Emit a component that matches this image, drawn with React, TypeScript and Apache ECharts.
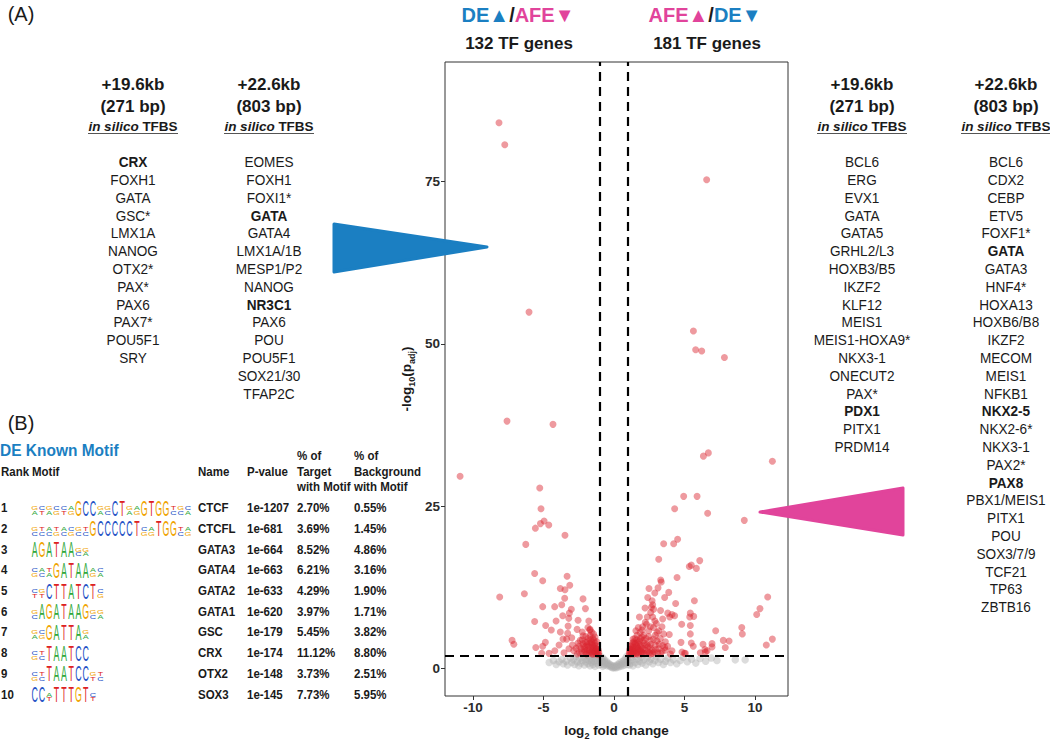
import React, { useEffect, useRef } from "react";
import * as echarts from "echarts";

// ---------------- DATA ----------------
const xTicks = [-10, -5, 0, 5, 10];
const yTicks = [0, 25, 50, 75];
const fcCut = [-1, 1];
const padjCut = 2;

// significant, lower in AFE (left)
const leftRed: number[][] = [
  [-8.16, 84.1], [-7.75, 80.7], [-6.03, 54.9], [-7.59, 38.1], [-4.33, 37.6],
  [-10.92, 29.6], [-5.27, 27.8], [-5.18, 24.6], [-4.96, 22.7], [-5.22, 22.3], [-4.63, 22.1], [-5.58, 21.6], [-3.48, 20.5], [-6.26, 19.1],
  [-5.63, 14.6], [-5.06, 13.5], [-3.33, 14.2], [-3.14, 12.8], [-3.81, 12.3], [-3.48, 12.1], [-8.11, 11.0], [-6.36, 11.5], [-3.5, 10.8], [-2.2, 10.7],
  [-5.06, 9.5], [-4.21, 9.5], [-3.71, 9.8], [-3.03, 9.1], [-2.03, 9.2], [-3.17, 8.5], [-3.64, 8.1], [-3.21, 7.7], [-2.55, 7.4], [-1.79, 7.3],
  [-5.63, 7.2], [-4.11, 7.3], [-4.85, 6.6], [-3.26, 6.5], [-4.45, 5.9], [-3.81, 5.6], [-2.62, 6.0], [-2.25, 5.6], [-1.72, 5.9], [-3.29, 5.4],
  [-3.62, 4.5], [-3.0, 4.7], [-3.36, 4.5], [-7.23, 4.3], [-7.11, 3.7], [-4.87, 4.0], [-5.06, 3.4], [-5.55, 3.2], [-4.61, 2.3], [-5.13, 2.3],
  [-3.55, 2.4], [-2.86, 2.7],
  [-2.4, 4.3], [-2.2, 3.8], [-2.0, 4.9], [-1.9, 4.1], [-1.8, 3.4], [-1.7, 5.0], [-1.65, 4.4], [-1.6, 3.7], [-1.55, 2.9], [-1.5, 4.6],
  [-1.45, 3.2], [-1.4, 2.5], [-1.35, 3.9], [-1.3, 2.2], [-1.25, 3.0], [-1.2, 2.6], [-1.15, 2.3], [-1.1, 2.1], [-2.1, 2.9], [-2.3, 2.5],
  [-1.95, 2.4], [-1.75, 2.7], [-2.5, 3.4], [-2.7, 3.1], [-1.6, 5.6], [-1.85, 6.3], [-2.05, 3.3], [-1.35, 4.8], [-1.55, 2.2], [-2.6, 2.2],
  [-3.2, 3.0], [-2.95, 3.6], [-4.2, 2.7], [-3.9, 3.6],
  [-1.12, 2.8], [-1.18, 3.4], [-1.22, 4.1], [-1.28, 2.4], [-1.33, 3.1], [-1.38, 3.6], [-1.42, 4.3], [-1.48, 2.7], [-1.52, 3.5], [-1.58, 4.0],
  [-1.62, 2.5], [-1.68, 3.2], [-1.72, 3.9], [-1.78, 2.3], [-1.82, 4.6], [-1.88, 2.9], [-1.92, 3.6], [-1.98, 2.2], [-2.02, 4.0], [-2.08, 2.6],
  [-2.15, 3.4], [-2.25, 4.4], [-2.35, 3.0], [-2.45, 2.4], [-2.55, 3.9], [-1.45, 5.3], [-1.7, 6.0], [-2.2, 5.0], [-1.3, 2.6], [-1.2, 3.0],
  [-1.08, 2.4], [-1.5, 2.2],
];

// significant, higher in AFE (right)
const rightRed: number[][] = [
  [6.57, 75.3], [5.63, 52.0], [5.79, 49.1], [6.22, 48.9], [7.83, 47.9], [6.34, 32.7], [6.69, 33.2], [11.23, 31.9],
  [4.94, 26.5], [5.89, 26.5], [4.3, 24.6], [6.64, 23.9], [9.24, 22.8], [4.51, 19.9], [3.52, 19.2], [4.23, 19.2], [3.17, 16.8], [6.08, 16.6],
  [5.48, 15.9], [5.34, 15.7], [5.84, 15.4],
  [3.31, 13.6], [3.35, 13.3], [4.47, 14.0], [2.48, 12.3], [3.12, 12.4], [2.89, 11.6], [2.39, 10.9], [3.59, 10.9], [2.7, 10.4], [2.74, 9.8],
  [2.65, 9.4], [2.81, 9.1], [5.7, 10.4], [4.37, 10.0], [3.81, 8.5], [4.11, 8.3], [3.95, 7.9], [4.3, 8.1], [5.41, 8.5], [5.65, 8.0], [5.37, 7.9],
  [1.8, 7.9], [2.36, 7.9], [2.74, 7.9], [3.0, 6.9], [3.4, 6.4], [2.22, 7.1], [2.03, 6.4], [1.72, 6.3], [2.58, 6.4], [2.46, 5.8], [3.17, 5.8],
  [2.93, 5.1], [3.52, 5.3], [3.92, 5.2], [3.28, 4.6], [3.64, 4.1], [2.93, 3.6], [2.58, 4.3], [2.1, 5.1], [1.63, 5.1], [1.4, 4.1], [1.28, 3.6],
  [1.16, 3.0], [1.63, 3.3], [1.87, 2.8], [2.34, 3.6], [2.22, 2.8], [2.7, 2.8], [3.17, 3.0], [3.64, 2.8], [4.11, 2.7], [4.82, 2.5], [2.1, 4.3],
  [1.87, 4.6], [3.88, 11.7],
  [4.8, 6.8], [5.41, 6.6], [5.41, 5.3], [4.75, 4.0], [5.48, 3.9], [5.62, 3.4], [6.31, 3.7], [6.95, 3.8], [6.95, 3.3], [7.21, 5.8], [7.75, 4.3],
  [8.16, 4.2], [7.89, 3.2], [9.06, 6.3], [9.1, 5.3], [10.12, 8.3], [10.35, 9.2], [10.9, 11.0], [10.8, 3.6], [11.23, 4.5], [5.06, 2.3],
  [6.6, 2.7], [6.48, 2.5], [6.12, 2.4], [6.45, 2.9], [4.99, 2.3],
  [1.1, 2.2], [1.15, 2.6], [1.2, 2.3], [1.25, 2.9], [1.3, 2.4], [1.35, 3.3], [1.45, 2.6], [1.5, 3.8], [1.55, 2.3], [1.6, 4.4], [1.7, 2.9],
  [1.75, 3.7], [1.85, 5.5], [1.95, 3.2], [2.0, 2.4], [2.15, 3.9], [2.3, 2.3], [2.45, 4.9], [2.55, 3.2], [2.6, 2.2], [2.85, 2.5], [3.05, 4.2],
  [3.3, 2.3], [3.45, 3.5], [3.8, 3.4], [4.0, 2.2], [1.4, 2.2], [1.65, 2.2], [1.9, 2.2], [2.9, 7.3], [2.6, 8.6], [3.3, 8.9], [3.45, 7.6], [2.2, 9.3],
  [1.08, 2.4], [1.12, 2.9], [1.18, 3.4], [1.22, 2.2], [1.28, 2.7], [1.32, 3.9], [1.38, 2.5], [1.42, 3.1], [1.48, 4.6], [1.52, 2.8],
  [1.58, 3.5], [1.62, 2.4], [1.68, 4.0], [1.72, 3.1], [1.78, 2.5], [1.82, 4.2], [1.88, 3.5], [1.92, 2.6], [1.98, 4.8], [2.05, 3.0],
  [2.12, 2.3], [2.2, 3.6], [2.28, 4.6], [2.38, 2.6], [2.42, 3.3], [2.52, 2.4], [2.62, 3.7], [2.75, 2.3], [2.8, 4.5], [2.95, 2.9],
  [3.1, 2.4], [3.2, 3.7], [3.4, 2.6], [3.6, 3.2], [1.55, 5.8], [2.0, 5.9], [2.3, 6.8], [2.8, 6.3], [3.05, 5.5], [1.35, 4.5],
];

// not significant
const grayPts: number[][] = [
  [-4.6, 0.9], [-4.3, 1.2], [-4.1, 0.6], [-3.9, 1.0], [-3.7, 1.4], [-3.6, 0.7], [-3.4, 1.1], [-3.3, 0.5], [-3.1, 1.6], [-3.0, 0.9],
  [-2.9, 1.3], [-2.8, 0.6], [-2.7, 1.8], [-2.6, 1.0], [-2.5, 0.4], [-2.45, 1.5], [-2.35, 0.8], [-2.25, 1.2], [-2.15, 1.7], [-2.1, 0.5],
  [-2.0, 1.0], [-1.95, 1.4], [-1.85, 0.7], [-1.8, 1.9], [-1.75, 1.2], [-1.7, 0.4], [-1.65, 1.6], [-1.6, 0.9], [-1.55, 1.3], [-1.5, 0.6],
  [-1.45, 1.8], [-1.4, 1.1], [-1.35, 0.3], [-1.3, 1.5], [-1.25, 0.8], [-1.2, 1.9], [-1.15, 1.2], [-1.1, 0.5], [-1.05, 1.6], [-1.0, 1.0],
  [-0.95, 1.8], [-0.9, 1.4], [-0.9, 0.6], [-0.85, 1.1], [-0.8, 1.6], [-0.8, 0.3], [-0.75, 0.9], [-0.7, 1.3], [-0.7, 0.5], [-0.65, 1.0],
  [-0.6, 0.7], [-0.55, 1.1], [-0.5, 0.4], [-0.45, 0.8], [-0.4, 0.5], [-0.35, 0.7], [-0.3, 0.3], [-0.25, 0.5], [-0.2, 0.2], [-0.15, 0.4],
  [-0.1, 0.1], [-0.05, 0.3], [0.0, 0.1], [0.05, 0.2], [0.1, 0.4], [0.15, 0.1], [0.2, 0.3], [0.25, 0.6], [0.3, 0.2], [0.35, 0.5],
  [0.4, 0.8], [0.45, 0.3], [0.5, 0.6], [0.55, 1.0], [0.6, 0.4], [0.65, 0.8], [0.7, 1.2], [0.75, 0.5], [0.8, 1.5], [0.85, 0.9],
  [0.9, 1.8], [0.95, 0.6], [0.95, 1.3],
  [1.05, 1.1], [1.1, 0.5], [1.15, 1.7], [1.2, 0.8], [1.3, 1.3], [1.35, 0.4], [1.45, 1.9], [1.5, 0.9], [1.6, 1.4], [1.7, 0.6],
  [1.8, 1.1], [1.9, 1.7], [2.0, 0.8], [2.1, 1.3], [2.25, 0.5], [2.35, 1.6], [2.5, 1.0], [2.6, 1.4], [2.75, 0.7], [2.9, 1.2],
  [3.0, 1.8], [3.15, 0.9], [3.3, 1.4], [3.5, 0.6], [3.65, 1.1], [3.8, 1.6], [4.0, 0.9], [4.2, 1.3], [4.45, 0.7], [4.7, 1.2],
  [4.9, 1.7], [5.2, 1.0], [5.5, 1.4], [5.8, 0.8], [6.1, 1.5], [6.5, 1.1], [6.9, 1.6], [7.3, 1.2], [8.6, 1.3], [9.3, 1.3],
];

// TFBS lists
const deCol1 = ["CRX", "FOXH1", "GATA", "GSC*", "LMX1A", "NANOG", "OTX2*", "PAX*", "PAX6", "PAX7*", "POU5F1", "SRY"];
const deCol1Bold = ["CRX"];
const deCol2 = ["EOMES", "FOXH1", "FOXI1*", "GATA", "GATA4", "LMX1A/1B", "MESP1/P2", "NANOG", "NR3C1", "PAX6", "POU", "POU5F1", "SOX21/30", "TFAP2C"];
const deCol2Bold = ["GATA", "NR3C1"];
const afeCol1 = ["BCL6", "ERG", "EVX1", "GATA", "GATA5", "GRHL2/L3", "HOXB3/B5", "IKZF2", "KLF12", "MEIS1", "MEIS1-HOXA9*", "NKX3-1", "ONECUT2", "PAX*", "PDX1", "PITX1", "PRDM14"];
const afeCol1Bold = ["PDX1"];
const afeCol2 = ["BCL6", "CDX2", "CEBP", "ETV5", "FOXF1*", "GATA", "GATA3", "HNF4*", "HOXA13", "HOXB6/B8", "IKZF2", "MECOM", "MEIS1", "NFKB1", "NKX2-5", "NKX2-6*", "NKX3-1", "PAX2*", "PAX8", "PBX1/MEIS1", "PITX1", "POU", "SOX3/7/9", "TCF21", "TP63", "ZBTB16"];
const afeCol2Bold = ["GATA", "NKX2-5", "PAX8"];

// Known motif table
const motifRank = ["1", "2", "3", "4", "5", "6", "7", "8", "9", "10"];
const motifLogo = [
  "[ag][tc][ag][gc][tc][ga]GCC[ag][cg]CT[ag][ga]GTGG[ct][cg][ac]",
  "[cg][ct][ca][gt][ca][gc][cg][ct]GCCCCCT[gc][ga]TGG[ct][ga]",
  "AGATAA[cg][ag]",
  "[gc][ca][at]GATAA[ga][ac]",
  "[tc][tg]CTTATCT[gc]",
  "[cg]AGATAAG[cg][ag]",
  "[ag][gc]GATTA[ag]",
  "[gc][ct]TAATCC",
  "[gc][ct]TAATCC[tg][ct]",
  "CC[ta]TTTGT[tc]",
];
const motifName = ["CTCF", "CTCFL", "GATA3", "GATA4", "GATA2", "GATA1", "GSC", "CRX", "OTX2", "SOX3"];
const motifP = ["1e-1207", "1e-681", "1e-664", "1e-663", "1e-633", "1e-620", "1e-179", "1e-174", "1e-148", "1e-145"];
const motifTarget = ["2.70%", "3.69%", "8.52%", "6.21%", "4.29%", "3.97%", "5.45%", "11.12%", "3.73%", "7.73%"];
const motifBg = ["0.55%", "1.45%", "4.86%", "3.16%", "1.90%", "1.71%", "3.82%", "8.80%", "2.51%", "5.95%"];

// ---------------- STYLE ----------------
const FONT = "'Liberation Sans', Arial, Helvetica, sans-serif";
const BLUE = "#1b7fc2";
const PINK = "#e1449b";
const INK = "#1a1a1a";
const LOGO_COL: Record<string, string> = { A: "#2fa83a", C: "#2452c6", G: "#f0a400", T: "#dd2222" };

function txt(x: number, y: number, text: string, o: any = {}) {
  return {
    type: "text",
    x,
    y,
    scaleY: o.scaleY ?? 1,
    scaleX: o.scaleX ?? 1,
    silent: true,
    style: {
      text,
      fill: o.fill ?? INK,
      fontSize: o.fontSize ?? 14,
      fontWeight: o.fontWeight ?? "normal",
      fontStyle: o.fontStyle ?? "normal",
      fontFamily: o.fontFamily ?? FONT,
      align: o.align ?? "center",
      verticalAlign: o.verticalAlign ?? "middle",
      rich: o.rich,
    },
  };
}

function columnBlock(cx: number, title1: string, title2: string, items: string[], bold: string[], els: any[]) {
  els.push(txt(cx, 84, title1, { fontSize: 17, fontWeight: "bold" }));
  els.push(txt(cx, 106, title2, { fontSize: 17, fontWeight: "bold" }));
  els.push(
    txt(cx, 126, "{i|in silico} {b|TFBS}", {
      fontSize: 13.5,
      fontWeight: "bold",
      rich: {
        i: { fontStyle: "italic", fontWeight: "bold", fontSize: 13.5, fontFamily: FONT, fill: INK },
        b: { fontWeight: "bold", fontSize: 13.5, fontFamily: FONT, fill: INK },
      },
    })
  );
  els.push({
    type: "line",
    silent: true,
    shape: { x1: cx - 45, y1: 133.5, x2: cx + 45, y2: 133.5 },
    style: { stroke: "#555", lineWidth: 1 },
  });
  items.forEach((t, i) => {
    els.push(
      txt(cx, 162 + i * 17.8, t, {
        fontSize: 13.6,
        scaleY: 1.13,
        fontWeight: bold.includes(t) ? "bold" : "normal",
      })
    );
  });
}

function logoElems(spec: string, x0: number, yc: number, els: any[]) {
  const PW = 7.3;
  const re = /\[([a-z]+)\]|([A-Z])/g;
  let m: RegExpExecArray | null;
  let i = 0;
  while ((m = re.exec(spec))) {
    const cx = x0 + i * PW + PW / 2;
    if (m[2]) {
      els.push(txt(cx, yc + 0.5, m[2], { fontSize: 17, scaleX: 0.52, scaleY: 1.3, fill: LOGO_COL[m[2]] }));
    } else {
      m[1]
        .toUpperCase()
        .split("")
        .forEach((c, k) => {
          els.push(txt(cx, yc + 5 - k * 4.8, c, { fontSize: 17, scaleX: 0.52, scaleY: 0.36, fill: LOGO_COL[c] }));
        });
    }
    i++;
  }
}

function buildGraphic() {
  const els: any[] = [];
  els.push(txt(21, 14, "(A)", { fontSize: 20 }));
  els.push(txt(21, 423, "(B)", { fontSize: 20 }));

  // top labels
  const topRich = {
    b: { fill: BLUE, fontSize: 20, fontWeight: "bold", fontFamily: FONT },
    p: { fill: PINK, fontSize: 20, fontWeight: "bold", fontFamily: FONT },
    k: { fill: INK, fontSize: 20, fontWeight: "bold", fontFamily: FONT },
  };
  els.push(txt(518, 15, "{b|DE▲}{k|/}{p|AFE▼}", { rich: topRich, fontSize: 20, fontWeight: "bold" }));
  els.push(txt(705, 15, "{p|AFE▲}{k|/}{b|DE▼}", { rich: topRich, fontSize: 20, fontWeight: "bold" }));
  els.push(txt(519, 43, "132 TF genes", { fontSize: 17, fontWeight: "bold" }));
  els.push(txt(707, 43, "181 TF genes", { fontSize: 17, fontWeight: "bold" }));

  // TFBS columns
  columnBlock(133, "+19.6kb", "(271 bp)", deCol1, deCol1Bold, els);
  columnBlock(269, "+22.6kb", "(803 bp)", deCol2, deCol2Bold, els);
  columnBlock(862, "+19.6kb", "(271 bp)", afeCol1, afeCol1Bold, els);
  columnBlock(1006, "+22.6kb", "(803 bp)", afeCol2, afeCol2Bold, els);

  // pointer triangles
  els.push({
    type: "polygon",
    silent: true,
    shape: { points: [[334, 224], [487, 247], [334, 272]] },
    style: { fill: BLUE, stroke: BLUE, lineWidth: 3, lineJoin: "round" },
  });
  els.push({
    type: "polygon",
    silent: true,
    shape: { points: [[760, 512], [903, 488], [903, 535]] },
    style: { fill: PINK, stroke: PINK, lineWidth: 3, lineJoin: "round" },
  });

  // motif table
  const tb = { fontSize: 11.5, fontWeight: "bold", scaleY: 1.15, align: "left" };
  els.push(txt(0, 450, "DE Known Motif", { fontSize: 15.5, fontWeight: "bold", scaleY: 1.12, fill: BLUE, align: "left" }));
  els.push(txt(1, 472, "Rank", tb));
  els.push(txt(32, 472, "Motif", tb));
  els.push(txt(198, 472, "Name", tb));
  els.push(txt(247, 472, "P-value", tb));
  els.push(txt(297, 456, "% of", tb));
  els.push(txt(297, 472, "Target", tb));
  els.push(txt(297, 487, "with Motif", tb));
  els.push(txt(354, 456, "% of", tb));
  els.push(txt(354, 472, "Background", tb));
  els.push(txt(354, 487, "with Motif", tb));
  motifRank.forEach((r, i) => {
    const y = 508 + i * 20.7;
    els.push(txt(1, y, r, tb));
    logoElems(motifLogo[i], 31, y, els);
    els.push(txt(198, y, motifName[i], tb));
    els.push(txt(247, y, motifP[i], tb));
    els.push(txt(297, y, motifTarget[i], tb));
    els.push(txt(354, y, motifBg[i], tb));
  });
  return els;
}

const axisText = { color: "#2b2b2b", fontWeight: "bold" as const, fontSize: 13.5, fontFamily: FONT };
const nameRich = {
  a: { fontSize: 13.5, fontWeight: "bold" as const, fontFamily: FONT, color: INK, lineHeight: 20 },
  s: { fontSize: 9, fontWeight: "bold" as const, fontFamily: FONT, color: INK, lineHeight: 10, verticalAlign: "bottom" as const },
};

export default function App() {
  const ref = useRef<HTMLDivElement>(null);
  useEffect(() => {
    document.body.style.margin = "0";
    const chart = echarts.init(ref.current!, null, { renderer: "svg" });
    chart.setOption({
      animation: false,
      backgroundColor: "#ffffff",
      grid: { left: 445, top: 62, width: 343, height: 641, show: true, borderColor: "#333", borderWidth: 1, backgroundColor: "transparent" },
      xAxis: {
        type: "value",
        min: -11.99,
        max: 12.34,
        splitLine: { show: false },
        axisLine: { show: false, onZero: false },
        axisTick: { show: true, length: 4, lineStyle: { color: "#333" }, customValues: xTicks },
        axisLabel: { ...axisText, margin: 4, customValues: xTicks },
        name: "{a|log}{s|2}{a| fold change}",
        nameLocation: "middle",
        nameGap: 24,
        nameTextStyle: { rich: nameRich },
      },
      yAxis: {
        type: "value",
        min: -4.27,
        max: 93.45,
        splitLine: { show: false },
        axisLine: { show: false, onZero: false },
        axisTick: { show: true, length: 4, lineStyle: { color: "#333" }, customValues: yTicks },
        axisLabel: { ...axisText, margin: 5, customValues: yTicks },
        name: "{a|-log}{s|10}{a|(p}{s|adj}{a|)}",
        nameLocation: "middle",
        nameRotate: 90,
        nameGap: 29,
        nameTextStyle: { rich: nameRich },
      },
      series: [
        {
          type: "scatter",
          data: grayPts,
          symbolSize: 7.5,
          itemStyle: { color: "rgba(175,175,175,0.55)" },
          silent: true,
          z: 2,
        },
        {
          type: "scatter",
          data: leftRed.concat(rightRed),
          symbolSize: 7,
          itemStyle: { color: "rgba(218,36,48,0.58)" },
          silent: true,
          z: 3,
        },
        {
          type: "scatter",
          data: [],
          silent: true,
          z: 5,
          markLine: {
            silent: true,
            symbol: ["none", "none"],
            label: { show: false },
            lineStyle: { color: "#000", type: [9, 6], width: 2.2 },
            data: [{ xAxis: fcCut[0] }, { xAxis: fcCut[1] }, { yAxis: padjCut }],
          },
        },
      ],
      graphic: buildGraphic(),
    });
    return () => chart.dispose();
  }, []);
  return <div ref={ref} style={{ width: 1050, height: 745 }} />;
}
